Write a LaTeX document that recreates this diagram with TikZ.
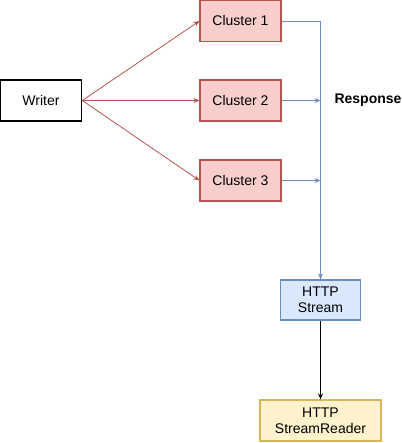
\documentclass[tikz,border=0pt]{standalone}
\usepackage{fontspec}
\setmainfont{Liberation Sans}
\usetikzlibrary{arrows.meta}
\definecolor{clfill}{HTML}{F8CECC}
\definecolor{cldraw}{HTML}{B85450}
\definecolor{stfill}{HTML}{DAE8FC}
\definecolor{stdraw}{HTML}{6C8EBF}
\definecolor{rdfill}{HTML}{FFF2CC}
\definecolor{rddraw}{HTML}{D6B656}
\tikzset{
	box/.style={draw, minimum width=81pt, minimum height=41pt, inner sep=0pt, align=center, font=\fontsize{14}{16}\selectfont},
	tip/.style={-{Stealth[length=6pt, width=5pt]}},
}
\begin{document}
\begin{tikzpicture}[x=1pt, y=-1pt]
	\useasboundingbox (0,0) rectangle (401,443);
	\node[box, line width=1.6pt] (writer) at (41,100.5) {Writer};
	\node[box, fill=clfill, draw=cldraw, line width=1.2pt] (c1) at (240.5,21) {Cluster 1};
	\node[box, fill=clfill, draw=cldraw, line width=1.2pt] (c2) at (240.5,100.5) {Cluster 2};
	\node[box, fill=clfill, draw=cldraw, line width=1.2pt] (c3) at (240.5,180.5) {Cluster 3};
	\node[box, fill=stfill, draw=stdraw, line width=1.2pt, minimum width=80pt, minimum height=40pt] (stream) at (320.5,300) {HTTP\\Stream};
	\node[box, fill=rdfill, draw=rddraw, line width=1.2pt, minimum width=121pt] (reader) at (320.5,420.5) {HTTP\\StreamReader};
	\coordinate (bus1) at (320.5,21);
	\coordinate (bus2) at (320.5,100.5);
	\coordinate (bus3) at (320.5,180.5);
	\node[anchor=west, font=\fontsize{14}{16}\selectfont\bfseries] (resp) at (331,100.5) {Response};
	% writer to clusters
	\draw[tip, cldraw, line width=0.8pt] (writer.east) -- (c1.west);
	\draw[tip, cldraw, line width=0.8pt] (writer.east) -- (c2.west);
	\draw[tip, cldraw, line width=0.8pt] (writer.east) -- (c3.west);
	% responses
	\draw[tip, stdraw, line width=0.8pt] (c1.east) -- (bus1) -- (stream.north);
	\draw[tip, stdraw, line width=0.8pt] (c2.east) -- (bus2);
	\draw[tip, stdraw, line width=0.8pt] (c3.east) -- (bus3);
	\draw[tip, line width=0.8pt] (stream.south) -- (reader.north);
\end{tikzpicture}
\end{document}
